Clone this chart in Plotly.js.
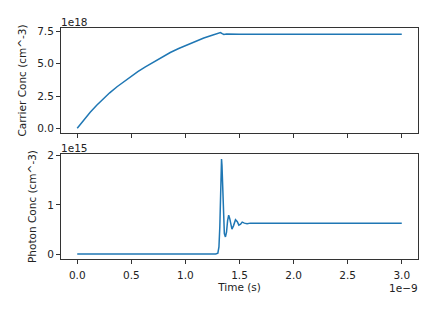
<!DOCTYPE html>
<html>
<head>
<meta charset="utf-8">
<script src="https://cdn.plot.ly/plotly-3.0.1.min.js"></script>
<style>html,body{margin:0;padding:0;background:#fff;}#chart{width:427px;height:313px;}</style>
</head>
<body>
<div id="chart"></div>
<script>
// Time in units of 1e-9 s
const timeCarrier = [0, 0.06, 0.12, 0.18, 0.244, 0.30, 0.368, 0.43, 0.491, 0.56, 0.63, 0.70, 0.784, 0.86, 0.938, 1.02, 1.093, 1.17, 1.247, 1.29, 1.324, 1.34, 1.355, 1.38, 1.40, 1.45, 1.5, 2.0, 2.5, 3.0];
// Carrier concentration in units of 1e18 cm^-3
const carrier = [0, 0.63, 1.24, 1.78, 2.31, 2.75, 3.22, 3.62, 3.99, 4.40, 4.77, 5.12, 5.54, 5.88, 6.19, 6.49, 6.76, 7.00, 7.22, 7.33, 7.43, 7.34, 7.28, 7.31, 7.30, 7.30, 7.30, 7.30, 7.30, 7.30];
// Time in units of 1e-9 s
const timePhoton = [0, 0.5, 1.0, 1.28, 1.30, 1.31, 1.318, 1.325, 1.33, 1.334, 1.338, 1.345, 1.352, 1.36, 1.37, 1.38, 1.39, 1.40, 1.41, 1.42, 1.43, 1.445, 1.463, 1.48, 1.494, 1.51, 1.525, 1.545, 1.57, 1.6, 2.0, 2.5, 3.0];
// Photon concentration in units of 1e15 cm^-3
const photon = [0.003, 0.003, 0.004, 0.006, 0.02, 0.15, 0.55, 1.2, 1.75, 1.93, 1.8, 1.2, 0.7, 0.42, 0.35, 0.45, 0.68, 0.79, 0.72, 0.58, 0.51, 0.58, 0.70, 0.66, 0.59, 0.61, 0.65, 0.63, 0.62, 0.63, 0.63, 0.63, 0.63];

const xTickVals = [0, 0.5, 1.0, 1.5, 2.0, 2.5, 3.0];
const xTickText = ['0.0', '0.5', '1.0', '1.5', '2.0', '2.5', '3.0'];
const carrierTickVals = [0, 2.5, 5.0, 7.5];
const carrierTickText = ['0.0', '2.5', '5.0', '7.5'];
const photonTickVals = [0, 1, 2];
const photonTickText = ['0', '1', '2'];

const X_SCALE = 1e-9, C_SCALE = 1e18, P_SCALE = 1e15;

const traces = [
  {x: timeCarrier.map(v => v * X_SCALE), y: carrier.map(v => v * C_SCALE), xaxis: 'x', yaxis: 'y',
   type: 'scatter', mode: 'lines', line: {color: '#1f77b4', width: 1.5}, hoverinfo: 'skip'},
  {x: timePhoton.map(v => v * X_SCALE), y: photon.map(v => v * P_SCALE), xaxis: 'x2', yaxis: 'y2',
   type: 'scatter', mode: 'lines', line: {color: '#1f77b4', width: 1.5}, hoverinfo: 'skip'}
];

const font = {family: 'DejaVu Sans', size: 10.5, color: '#222'};
const axisCommon = {showline: true, mirror: true, linecolor: '#333', linewidth: 1, ticks: 'outside',
  ticklen: 4, tickcolor: '#333', tickwidth: 1, showgrid: false, zeroline: false, tickfont: font};

const xr = [-0.15 * X_SCALE, 3.15 * X_SCALE];
const layout = {
  width: 427, height: 313,
  margin: {l: 61, r: 9, t: 28, b: 54},
  paper_bgcolor: '#fff', plot_bgcolor: '#fff',
  showlegend: false, font: font,
  xaxis: Object.assign({}, axisCommon, {domain: [0, 1], anchor: 'y', range: xr,
    tickvals: xTickVals.map(v => v * X_SCALE), ticktext: xTickText, showticklabels: false}),
  yaxis: Object.assign({}, axisCommon, {domain: [0.5455, 1], anchor: 'x', range: [-0.37 * C_SCALE, 7.78 * C_SCALE],
    tickvals: carrierTickVals.map(v => v * C_SCALE), ticktext: carrierTickText,
    title: {text: 'Carrier Conc (cm^-3)', font: font, standoff: 8}}),
  xaxis2: Object.assign({}, axisCommon, {domain: [0, 1], anchor: 'y2', range: xr,
    tickvals: xTickVals.map(v => v * X_SCALE), ticktext: xTickText, ticklabelstandoff: 2,
    title: {text: 'Time (s)', font: font, standoff: 4}}),
  yaxis2: Object.assign({}, axisCommon, {domain: [0, 0.4545], anchor: 'x2', range: [-0.0965 * P_SCALE, 2.03 * P_SCALE],
    tickvals: photonTickVals.map(v => v * P_SCALE), ticktext: photonTickText,
    title: {text: 'Photon Conc (cm^-3)', font: font, standoff: 8}}),
  annotations: [
    {text: '1e18', xref: 'paper', yref: 'paper', x: 0, y: 1, xanchor: 'left', yanchor: 'bottom', showarrow: false, font: font, xshift: -2, yshift: -2},
    {text: '1e15', xref: 'paper', yref: 'paper', x: 0, y: 0.4545, xanchor: 'left', yanchor: 'bottom', showarrow: false, font: font, xshift: -2, yshift: -2},
    {text: '1e\u22129', xref: 'paper', yref: 'paper', x: 1, y: 0, xanchor: 'right', yanchor: 'top', showarrow: false, font: font, xshift: 2, yshift: -21}
  ]
};

Plotly.newPlot('chart', traces, layout, {staticPlot: true, displayModeBar: false});
</script>
</body>
</html>
